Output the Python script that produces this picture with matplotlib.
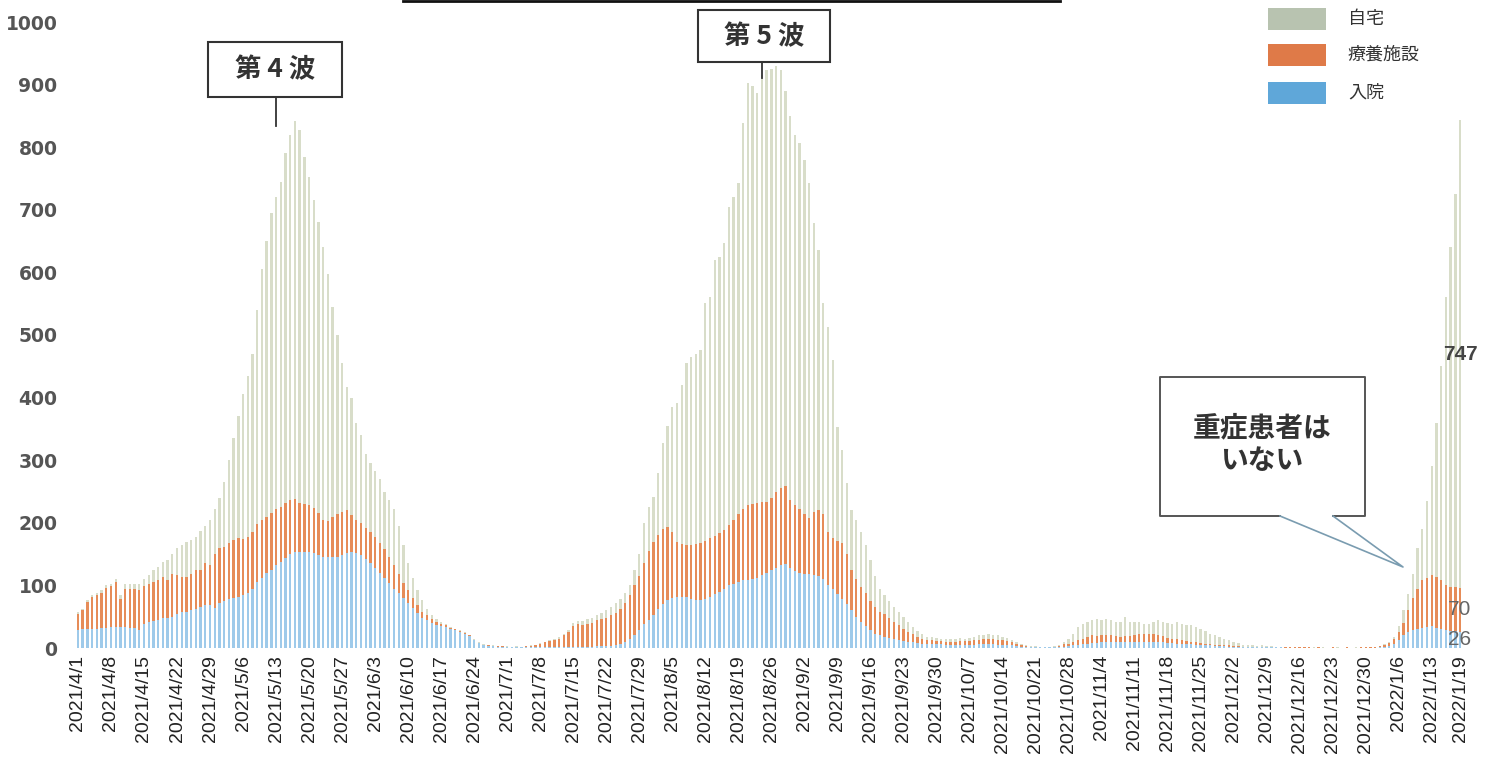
import matplotlib
matplotlib.use('Agg')
import matplotlib.pyplot as plt
from matplotlib.patches import Rectangle
from matplotlib.lines import Line2D
import numpy as np
import pandas as pd

plt.rcParams['font.family'] = ['Noto Sans CJK JP', 'DejaVu Sans']

# daily data 2021/4/1 - 2022/1/19 (one row per week)
dates = pd.date_range('2021-04-01', '2022-01-19', freq='D')
date_labels = [f'{d.year}/{d.month}/{d.day}' for d in dates]

# 入院
hosp = [
    28, 30, 30, 31, 31, 32, 32,
    33, 33, 33, 33, 32, 32, 28,
    38, 41, 43, 45, 48, 48, 50,
    55, 57, 58, 61, 63, 66, 68,
    68, 64, 72, 75, 78, 80, 82,
    85, 88, 95, 105, 112, 120, 125,
    132, 138, 144, 150, 153, 154, 154,
    153, 151, 148, 146, 145, 145, 146,
    148, 152, 154, 152, 148, 142, 136,
    128, 120, 112, 104, 95, 88, 80,
    72, 64, 56, 48, 44, 40, 37,
    35, 33, 30, 28, 26, 23, 19,
    12, 8, 5, 3, 3, 2, 2,
    2, 1, 1, 1, 1, 1, 1,
    1, 1, 1, 1, 1, 2, 2,
    2, 2, 2, 2, 2, 3, 3,
    3, 3, 4, 6, 10, 14, 20,
    28, 38, 45, 52, 62, 70, 76,
    80, 82, 82, 81, 79, 77, 77,
    79, 82, 86, 90, 95, 100, 103,
    106, 108, 109, 110, 112, 116, 120,
    124, 128, 132, 134, 128, 123, 120,
    118, 118, 117, 115, 110, 100, 95,
    86, 78, 70, 60, 50, 42, 35,
    28, 23, 20, 18, 16, 14, 12,
    11, 10, 9, 8, 7, 6, 6,
    6, 6, 5, 5, 5, 5, 5,
    5, 5, 6, 6, 6, 6, 5,
    5, 5, 4, 3, 2, 2, 1,
    1, 1, 1, 1, 1, 1, 2,
    3, 4, 5, 6, 7, 8, 8,
    9, 9, 9, 9, 9, 9, 9,
    10, 10, 10, 10, 10, 9, 9,
    8, 8, 7, 7, 6, 6, 5,
    5, 4, 4, 3, 3, 3, 2,
    2, 2, 1, 1, 1, 1, 1,
    1, 1, 1, 1, 0, 0, 0,
    0, 0, 0, 0, 0, 0, 0,
    0, 0, 0, 0, 0, 0, 0,
    0, 0, 0, 1, 2, 3, 6,
    12, 20, 25, 28, 30, 32, 33,
    35, 32, 30, 28, 27, 27, 26,
]

# 療養施設
facility = [
    27, 30, 43, 51, 53, 56, 64,
    66, 72, 45, 62, 63, 62, 64,
    61, 61, 62, 63, 65, 60, 68,
    61, 57, 56, 58, 62, 59, 67,
    65, 86, 88, 87, 89, 92, 94,
    89, 90, 91, 93, 93, 90, 91,
    90, 88, 88, 86, 85, 78, 76,
    75, 73, 67, 59, 58, 65, 68,
    70, 68, 58, 53, 52, 50, 49,
    49, 48, 46, 42, 37, 30, 24,
    20, 16, 12, 10, 8, 6, 5,
    4, 3, 2, 2, 1, 1, 1,
    1, 0, 0, 1, 0, 1, 1,
    0, 1, 1, 1, 2, 2, 3,
    6, 8, 10, 12, 14, 18, 23,
    33, 36, 35, 37, 38, 42, 44,
    45, 49, 52, 56, 62, 71, 80,
    87, 97, 110, 118, 118, 120, 117,
    106, 88, 84, 84, 86, 89, 91,
    92, 93, 93, 93, 93, 96, 102,
    108, 114, 119, 120, 120, 117, 114,
    116, 122, 124, 124, 108, 105, 102,
    96, 90, 101, 105, 104, 85, 80,
    85, 90, 80, 65, 60, 56, 53,
    47, 42, 38, 36, 32, 28, 24,
    19, 16, 13, 10, 7, 6, 6,
    5, 5, 5, 5, 5, 6, 6,
    6, 7, 7, 8, 9, 8, 8,
    7, 6, 5, 4, 2, 1, 1,
    1, 1, 1, 0, 1, 2, 4,
    4, 6, 8, 8, 10, 12, 11,
    12, 12, 11, 10, 9, 10, 10,
    11, 13, 13, 12, 12, 12, 10,
    8, 7, 7, 6, 5, 4, 4,
    3, 3, 2, 2, 2, 1, 2,
    1, 1, 1, 1, 1, 1, 1,
    1, 0, 0, 0, 1, 1, 1,
    1, 1, 1, 0, 1, 0, 0,
    1, 0, 0, 1, 0, 0, 1,
    1, 1, 1, 2, 3, 5, 9,
    13, 20, 35, 52, 65, 76, 79,
    82, 81, 78, 72, 71, 70, 70,
]

# 自宅
home = [
    2, 2, 3, 3, 4, 4, 4,
    4, 5, 7, 7, 8, 9, 10,
    11, 15, 19, 22, 25, 32, 32,
    44, 51, 56, 53, 53, 62, 60,
    72, 72, 80, 103, 133, 163, 194,
    231, 257, 284, 342, 400, 440, 479,
    498, 519, 558, 584, 604, 595, 555,
    524, 491, 465, 435, 395, 335, 286,
    237, 197, 188, 155, 140, 118, 110,
    105, 102, 92, 90, 90, 77, 61,
    43, 32, 24, 18, 11, 7, 4,
    3, 2, 2, 1, 1, 1, 1,
    1, 1, 1, 0, 1, 0, 0,
    1, 0, 1, 0, 0, 1, 1,
    1, 1, 1, 2, 2, 3, 3,
    5, 5, 6, 7, 8, 7, 9,
    12, 13, 16, 16, 16, 15, 25,
    35, 65, 71, 72, 100, 137, 162,
    199, 221, 254, 290, 300, 304, 308,
    380, 386, 441, 442, 459, 509, 515,
    529, 617, 674, 667, 654, 682, 689,
    685, 680, 667, 632, 614, 592, 585,
    566, 535, 461, 416, 337, 328, 285,
    182, 148, 113, 95, 95, 87, 77,
    65, 50, 37, 31, 27, 24, 22,
    20, 16, 12, 9, 9, 6, 5,
    5, 4, 5, 4, 5, 5, 4,
    5, 5, 7, 7, 8, 7, 7,
    6, 5, 4, 3, 2, 1, 1,
    1, 0, 0, 1, 1, 2, 4,
    7, 13, 21, 25, 25, 25, 28,
    24, 26, 24, 23, 23, 31, 23,
    20, 19, 16, 17, 20, 24, 23,
    24, 24, 28, 26, 26, 26, 25,
    23, 20, 17, 16, 13, 11, 9,
    7, 5, 3, 2, 2, 1, 2,
    1, 2, 1, 1, 1, 1, 0,
    1, 0, 0, 1, 0, 1, 0,
    0, 1, 0, 0, 0, 1, 0,
    0, 0, 1, 0, 1, 2, 3,
    10, 20, 26, 38, 65, 82, 123,
    173, 247, 342, 460, 542, 628, 747,
]

series_names = ['入院', '療養施設', '自宅']
bar_colors = ['#9ecaea', '#e68c58', '#d8ddc9']
legend_colors = ['#5fa7d9', '#df7a48', '#b8c3b0']

W, H = 1495, 767
fig = plt.figure(figsize=(W / 100, H / 100), dpi=100)
ax = fig.add_axes([75.6 / W, 1 - 648 / H, 1386.8 / W, 626 / H])

x = np.arange(len(dates))
hosp_a = np.array(hosp)
fac_a = np.array(facility)
home_a = np.array(home)

ax.bar(x, hosp_a, width=0.5, color=bar_colors[0], linewidth=0)
ax.bar(x, fac_a, width=0.5, bottom=hosp_a, color=bar_colors[1], linewidth=0)
ax.bar(x, home_a, width=0.5, bottom=hosp_a + fac_a, color=bar_colors[2], linewidth=0)

ax.set_xlim(-0.5, len(dates) - 0.5)
ax.set_ylim(0, 1000)
for s in ax.spines.values():
    s.set_visible(False)

tick_idx = list(range(0, len(dates), 7)) + [len(dates) - 1]
ax.set_xticks(tick_idx)
ax.set_xticklabels([date_labels[i] for i in tick_idx], rotation=90,
                   fontsize=14, family='Liberation Sans', color='#222')
ax.set_yticks(range(0, 1001, 100))
ax.set_yticklabels([str(v) for v in range(0, 1001, 100)], fontsize=13.5,
                   family='DejaVu Sans', fontweight='bold', color='#555')
ax.tick_params(axis='x', length=0, pad=5)
ax.tick_params(axis='y', length=0, pad=13)


def fx(px):
    return px / W


def fy(py):
    return 1 - py / H


def box(x0, y0, x1, y1, color='#333', lw=1.5):
    fig.add_artist(Rectangle((fx(x0), fy(y1)), (x1 - x0) / W, (y1 - y0) / H,
                             transform=fig.transFigure, fill=False,
                             edgecolor=color, linewidth=lw))


def line(xs, ys, color='#333', lw=1.3):
    fig.add_artist(Line2D([fx(v) for v in xs], [fy(v) for v in ys],
                          transform=fig.transFigure, color=color, linewidth=lw))


# cut-off title frame at the top
line([403, 1060], [1, 1], color='#111', lw=2)

# wave labels
box(208, 42, 342, 97)
line([276, 276], [97, 126])
fig.text(fx(275), fy(70), '第 4 波', ha='center', va='center', fontsize=19,
         fontweight='bold', color='#333')
box(698, 10, 830, 62)
line([762, 762], [62, 78])
fig.text(fx(764), fy(37), '第 5 波', ha='center', va='center', fontsize=19,
         fontweight='bold', color='#333')

# callout
line([1280, 1160, 1160, 1365, 1365, 1333], [516, 516, 377, 377, 516, 516],
     color='#555', lw=1.4)
line([1280, 1403, 1333], [516, 567, 516], color='#7a9cb0', lw=1.2)
fig.text(fx(1262), fy(445), '重症患者は\nいない', ha='center', va='center',
         fontsize=20, fontweight='bold', color='#333', linespacing=1.2)

# legend
legend_rows = [(2, 19), (1, 55), (0, 93)]
for k, ypx in legend_rows:
    fig.add_artist(Rectangle((fx(1268), fy(ypx + 11)), 58 / W, 22 / H,
                             transform=fig.transFigure, facecolor=legend_colors[k],
                             edgecolor='none'))
    fig.text(fx(1348), fy(ypx), series_names[k], ha='left', va='center',
             fontsize=13, color='#333')

# last-day values
last = len(dates) - 1
ax.text(last, hosp_a[last] + fac_a[last] + home_a[last] / 2, str(home_a[last]),
        ha='center', va='center', fontsize=15, fontweight='bold',
        family='Liberation Sans', color='#444')
ax.text(last, hosp_a[last] + fac_a[last] / 2, str(fac_a[last]),
        ha='center', va='center', fontsize=15, family='Liberation Sans', color='#666')
ax.text(last, hosp_a[last] / 2, str(hosp_a[last]),
        ha='center', va='center', fontsize=15, family='Liberation Sans', color='#666')

fig.savefig('out.png', dpi=100, facecolor='white')
